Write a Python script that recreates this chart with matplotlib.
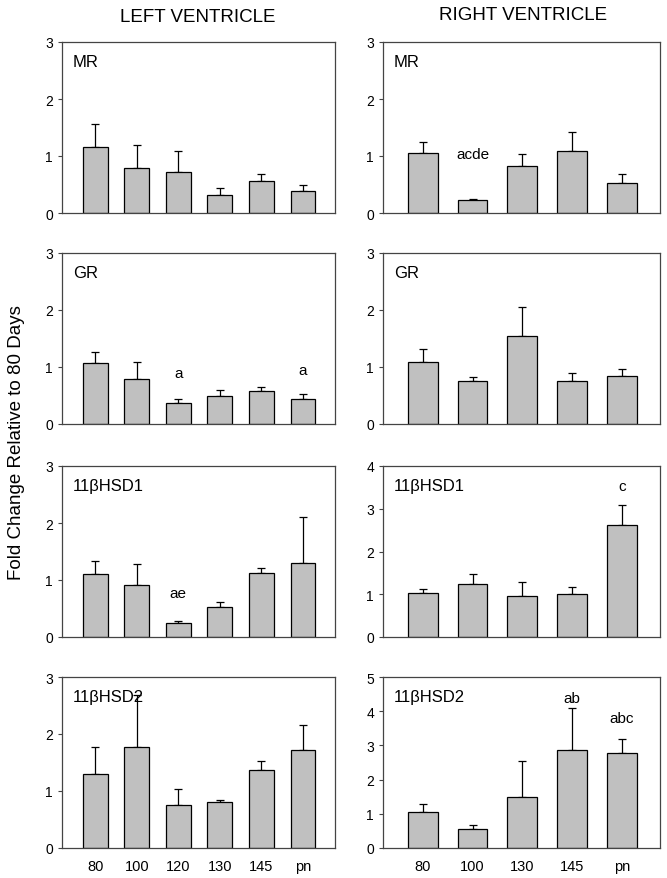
import numpy as np
import matplotlib
matplotlib.use("Agg")
import matplotlib.pyplot as plt

plt.rcParams['font.family'] = ['Liberation Sans', 'DejaVu Sans']

# grupos de edad
lv_groups = ['80', '100', '120', '130', '145', 'pn']
rv_groups = ['80', '100', '130', '145', 'pn']
genes = ['MR', 'GR', '11\u03b2HSD1', '11\u03b2HSD2']

# ventriculo izquierdo: media y error
lv_mr = [1.16, 0.79, 0.72, 0.32, 0.57, 0.39]
lv_mr_err = [0.40, 0.41, 0.37, 0.11, 0.12, 0.10]
lv_gr = [1.07, 0.79, 0.36, 0.50, 0.58, 0.44]
lv_gr_err = [0.20, 0.29, 0.07, 0.09, 0.07, 0.09]
lv_hsd1 = [1.11, 0.91, 0.25, 0.52, 1.13, 1.29]
lv_hsd1_err = [0.23, 0.37, 0.03, 0.09, 0.08, 0.81]
lv_hsd2 = [1.30, 1.78, 0.76, 0.80, 1.37, 1.72]
lv_hsd2_err = [0.47, 0.90, 0.28, 0.04, 0.16, 0.44]

# ventriculo derecho
rv_mr = [1.05, 0.23, 0.83, 1.09, 0.53]
rv_mr_err = [0.19, 0.02, 0.21, 0.33, 0.16]
rv_gr = [1.08, 0.76, 1.54, 0.76, 0.84]
rv_gr_err = [0.23, 0.07, 0.52, 0.13, 0.12]
rv_hsd1 = [1.02, 1.23, 0.95, 1.00, 2.61]
rv_hsd1_err = [0.10, 0.24, 0.33, 0.18, 0.47]
rv_hsd2 = [1.06, 0.57, 1.50, 2.88, 2.78]
rv_hsd2_err = [0.24, 0.10, 1.03, 1.20, 0.42]

lv_vals = [lv_mr, lv_gr, lv_hsd1, lv_hsd2]
lv_errs = [lv_mr_err, lv_gr_err, lv_hsd1_err, lv_hsd2_err]
rv_vals = [rv_mr, rv_gr, rv_hsd1, rv_hsd2]
rv_errs = [rv_mr_err, rv_gr_err, rv_hsd1_err, rv_hsd2_err]
lv_ymax = [3, 3, 3, 3]
rv_ymax = [3, 3, 4, 5]

# letras de significancia: (fila, indice de barra, texto, altura)
lv_sig = [(1, 2, 'a', 0.9), (1, 5, 'a', 0.94), (2, 2, 'ae', 0.78)]
rv_sig = [(0, 1, 'acde', 1.03), (2, 4, 'c', 3.54), (3, 3, 'ab', 4.38), (3, 4, 'abc', 3.8)]

fig = plt.figure(figsize=(6.67, 8.79), dpi=100)
W, H = 667, 879
rows_top = [43, 254, 467, 678]
row_h = 171
cols = [(62, 335), (383, 660)]


def panel(x0, x1, top, vals, errs, ymax, gene, labels, show_x):
    ax = fig.add_axes([x0 / W, 1 - (top + row_h) / H, (x1 - x0) / W, row_h / H])
    x = np.arange(len(vals))
    ax.bar(x, vals, width=0.6, color='#c0c0c0', edgecolor='black', linewidth=0.9, zorder=2)
    ax.errorbar(x, vals, yerr=[np.zeros(len(vals)), errs], fmt='none', ecolor='black',
                elinewidth=0.9, capsize=3, capthick=0.9, zorder=1)
    ax.set_xlim(-0.8, len(vals) - 0.23)
    ax.set_ylim(0, ymax)
    ax.set_yticks(range(ymax + 1))
    ax.tick_params(axis='y', labelsize=10, length=3, direction='out', color='#444444')
    ax.tick_params(axis='x', length=0, labelsize=10.5, pad=8)
    ax.set_xticks(x)
    ax.set_xticklabels(labels if show_x else [])
    for s in ax.spines.values():
        s.set_color('#444444')
        s.set_linewidth(0.9)
    ax.text(0.04, 0.93, gene, transform=ax.transAxes, fontsize=12, va='top', ha='left')
    return ax


axes_l, axes_r = [], []
for i in range(4):
    axes_l.append(panel(cols[0][0], cols[0][1], rows_top[i], lv_vals[i], lv_errs[i],
                        lv_ymax[i], genes[i], lv_groups, i == 3))
    axes_r.append(panel(cols[1][0], cols[1][1], rows_top[i], rv_vals[i], rv_errs[i],
                        rv_ymax[i], genes[i], rv_groups, i == 3))

for r, b, t, yv in lv_sig:
    axes_l[r].text(b, yv, t, ha='center', va='center', fontsize=11)
for r, b, t, yv in rv_sig:
    axes_r[r].text(b, yv, t, ha='center', va='center', fontsize=11)

fig.text(198 / W, 1 - 17 / H, 'LEFT VENTRICLE', ha='center', va='center', fontsize=13.5)
fig.text(523 / W, 1 - 15 / H, 'RIGHT VENTRICLE', ha='center', va='center', fontsize=13.5)
fig.text(17 / W, 1 - 443 / H, 'Fold Change Relative to 80 Days', rotation=90,
         ha='center', va='center', fontsize=13.5)

fig.savefig('out.png', dpi=100)
